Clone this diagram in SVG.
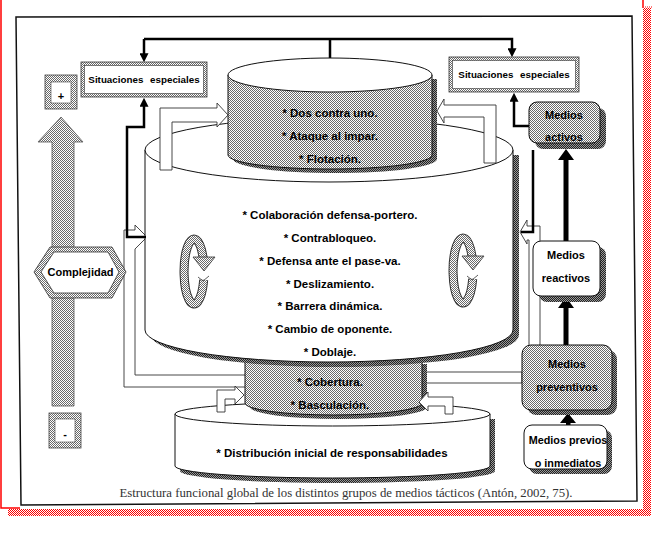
<svg xmlns="http://www.w3.org/2000/svg" width="653" height="534" viewBox="0 0 653 534">
<defs>
<pattern id="st" width="2" height="2" patternUnits="userSpaceOnUse"><rect width="2" height="2" fill="#fff"/><rect width="1" height="1" fill="#6a6a6a"/><rect x="1" y="1" width="1" height="1" fill="#6a6a6a"/></pattern>
<pattern id="dk" width="2" height="2" patternUnits="userSpaceOnUse"><rect width="2" height="2" fill="#222"/><rect width="1" height="1" fill="#999"/><rect x="1" y="1" width="1" height="1" fill="#999"/></pattern>
<pattern id="rd" width="2" height="2" patternUnits="userSpaceOnUse"><rect width="2" height="2" fill="#fff"/><rect width="1" height="1" fill="#f00"/><rect x="1" y="1" width="1" height="1" fill="#f00"/></pattern>
<marker id="ah" viewBox="0 0 10 10" refX="2" refY="5" markerWidth="9" markerHeight="9" markerUnits="userSpaceOnUse" orient="auto"><path d="M0,0 L10,5 L0,10 z" fill="#000"/></marker>
<g id="circ">
<path d="M203.1,257.8 A10,32.5 0 1 0 203.7,279.9" fill="none" stroke="#333" stroke-width="9"/>
<path d="M203.1,257.8 A10,32.5 0 1 0 203.7,279.9" fill="none" stroke="url(#st)" stroke-width="7"/>
<polygon points="193,257 215,257 204,271" fill="url(#st)" stroke="#333" stroke-width="0.8"/>
<path d="M198,277 L203,281 L209,276" fill="none" stroke="#333" stroke-width="0.8"/>
</g>
</defs>
<style>
.t{font-family:"Liberation Sans",Arial,sans-serif;font-weight:bold;fill:#000;text-anchor:middle}
.ln{fill:none;stroke:#000;stroke-width:2.5}
.out{stroke:#111;stroke-width:1}
.hol{fill:#fff;stroke:#333;stroke-width:0.9}
.red{fill:none;stroke:#f00;stroke-width:1.5}
</style>
<rect width="653" height="534" fill="#fff"/>

<!-- red page border -->
<g id="page-border">
<path class="red" d="M1,0 V508 H20"/>
<rect x="8" y="509" width="642" height="7" fill="url(#rd)"/>
<rect x="643" y="8" width="8" height="508" fill="url(#rd)"/>
<path d="M643,0 V8" class="red"/>
<path d="M645,7 H653" stroke="#f00" stroke-width="1" stroke-dasharray="1,1"/>
</g>

<!-- frame -->
<polygon id="frame" points="16,17 632,16 637,501 21,505" fill="none" stroke="#111" stroke-width="1.5"/>

<!-- connectors (behind) -->
<g id="connectors-back">
<path class="ln" d="M330,58 V39"/>
<path class="ln" d="M144,39 H512 V50" marker-end="url(#ah)"/>
<path class="ln" d="M144,39 V55" marker-end="url(#ah)"/>
<path class="hol" d="M245,387 H124 V230 H135 V225 L147,237 L135,249 V375 H245"/>
<rect class="hol" x="400" y="372" width="122" height="11"/>
<path class="hol" d="M540,345 V226 H527 V220 L520,232 L527,244 V240 H529 V345"/>
</g>

<!-- complejidad axis -->
<g id="complejidad-axis">
<polygon points="61,117 83,142 74,142 74,406 52,406 52,142 38,142" fill="url(#st)" stroke="#555" stroke-width="0.8"/>
</g>
<g id="plus">
<rect x="45" y="75" width="32" height="34" fill="url(#st)" stroke="#444" stroke-width="0.8"/>
<rect x="51" y="82" width="20" height="21" fill="#fff" stroke="#444" stroke-width="0.6"/>
<text class="t" x="61" y="100" font-size="11">+</text>
</g>
<g id="minus">
<rect x="49" y="413" width="32" height="35" fill="url(#st)" stroke="#444" stroke-width="0.8"/>
<rect x="55" y="419" width="20" height="23" fill="#fff" stroke="#444" stroke-width="0.6"/>
<text class="t" x="65" y="438" font-size="11">-</text>
</g>
<g id="complejidad">
<polygon points="34,272 50,247 112,247 126,272 112,298 50,298" fill="url(#st)" stroke="#333" stroke-width="0.8"/>
<polygon points="41,272 54,252 108,252 119,272 108,293 54,293" fill="#fff" stroke="#333" stroke-width="0.8"/>
<text class="t" x="80.5" y="276" font-size="11">Complejidad</text>
</g>

<!-- bottom cylinder -->
<g id="cyl-bottom">
<path transform="translate(5,5)" d="M175,414 V466 A157.5,12 0 0 0 490,466 V414 Z" fill="url(#dk)"/>
<path class="out" d="M175,414 V466 A157.5,12 0 0 0 490,466 V414 Z" fill="#fff"/>
<ellipse class="out" cx="332.5" cy="414" rx="157.5" ry="12" fill="#fff"/>
<text class="t" x="332" y="457" font-size="11.5">* Distribución inicial de responsabilidades</text>
</g>

<!-- middle cylinder -->
<g id="cyl-middle">
<path transform="translate(5,4)" d="M245,360 V403 A88.5,12 0 0 0 422,403 V360 Z" fill="url(#dk)"/>
<path class="out" d="M245,360 V403 A88.5,12 0 0 0 422,403 V360 Z" fill="url(#st)"/>
<text class="t" x="330" y="386" font-size="11.5">* Cobertura.</text>
<text class="t" x="330" y="409" font-size="11.5">* Basculación.</text>
</g>

<!-- lower hollow arrows -->
<g id="arrows-lower">
<polygon class="hol" points="217,412 217,390 235,390 235,386 244,395 235,404 235,399 225,399 225,412"/>
<polygon class="hol" points="453,414 453,397 428,397 428,392 419,402 428,411 428,406 445,406 445,414"/>
</g>

<!-- big cylinder -->
<g id="cyl-big">
<path transform="translate(6,5)" d="M145,150 V330 A184,32 0 0 0 513,330 V150 Z" fill="url(#dk)"/>
<path class="out" d="M145,150 V330 A184,32 0 0 0 513,330 V150 Z" fill="#fff"/>
<ellipse class="out" cx="329" cy="150" rx="184" ry="32" fill="#fff"/>
<text class="t" x="330" y="219" font-size="11.5">* Colaboración defensa-portero.</text>
<text class="t" x="330" y="242" font-size="11.5">* Contrabloqueo.</text>
<text class="t" x="330" y="265" font-size="11.5">* Defensa ante el pase-va.</text>
<text class="t" x="330" y="288" font-size="11.5">* Deslizamiento.</text>
<text class="t" x="330" y="310" font-size="11.5">* Barrera dinámica.</text>
<text class="t" x="330" y="333" font-size="11.5">* Cambio de oponente.</text>
<text class="t" x="330" y="356" font-size="11.5">* Doblaje.</text>
</g>

<!-- top cylinder -->
<g id="cyl-top">
<path transform="translate(5,4)" d="M228,75 V155 A102,14 0 0 0 432,155 V75 Z" fill="url(#dk)"/>
<path class="out" d="M228,75 V155 A102,14 0 0 0 432,155 V75 Z" fill="url(#st)"/>
<ellipse class="out" cx="330" cy="75" rx="102" ry="17" fill="#fff"/>
<text class="t" x="330" y="117" font-size="11.5">* Dos contra uno.</text>
<text class="t" x="330" y="140" font-size="11.5">* Ataque al impar.</text>
<text class="t" x="330" y="163" font-size="11.5">* Flotación.</text>
</g>

<!-- upper hollow arrows -->
<g id="arrows-upper">
<polygon class="hol" points="160,170 160,108 217,108 217,103 228,115 217,127 217,122 172,122 172,170"/>
<polygon class="hol" points="496,163 496,105 444,105 444,99 437,111 444,123 444,117 484,117 484,163"/>
</g>

<!-- rotation icons -->
<g id="rot-left"><use href="#circ"/></g>
<g id="rot-right"><use href="#circ" transform="translate(269,-1)"/></g>

<!-- black connectors (front) -->
<g id="connectors">
<path class="ln" d="M146,237 H127 V127 H144 V105" marker-end="url(#ah)"/>
<path class="ln" d="M529,126 H514 V100" marker-end="url(#ah)"/>
<path class="ln" d="M533,150 V232 H521"/>
<polygon points="563.5,241 563.5,160 558,160 566,149 574,160 568.5,160 568.5,241" fill="#000"/>
<polygon points="563.5,345 563.5,308 558,308 566,297 574,308 568.5,308 568.5,345" fill="#000"/>
<polygon points="566,425 566,423 560,423 568,413 576,423 570.5,423 570.5,425" fill="#000"/>
</g>

<!-- situaciones especiales -->
<g id="sit-left">
<rect x="81" y="62" width="126" height="35" fill="url(#st)" stroke="#333" stroke-width="0.8"/>
<rect x="84.5" y="65.5" width="119" height="28" fill="#fff" stroke="#333" stroke-width="0.6"/>
<text class="t" x="144" y="83" font-size="9.8" word-spacing="4">Situaciones especiales</text>
</g>
<g id="sit-right">
<rect x="449" y="57" width="130" height="35" fill="url(#st)" stroke="#333" stroke-width="0.8"/>
<rect x="452.5" y="60.5" width="123" height="28" fill="#fff" stroke="#333" stroke-width="0.6"/>
<text class="t" x="514" y="78" font-size="9.8" word-spacing="4">Situaciones especiales</text>
</g>

<!-- medios -->
<g id="medios-activos">
<rect x="535" y="108" width="71" height="41" rx="8" fill="url(#dk)"/>
<rect class="out" x="529" y="102" width="71" height="41" rx="8" fill="url(#st)"/>
<text class="t" x="564" y="119" font-size="11">Medios</text>
<text class="t" x="564" y="141" font-size="11">activos</text>
</g>
<g id="medios-reactivos">
<rect x="539" y="247" width="67" height="55" rx="8" fill="url(#dk)"/>
<rect class="out" x="533" y="241" width="67" height="55" rx="8" fill="#fff"/>
<text class="t" x="566" y="259" font-size="11">Medios</text>
<text class="t" x="566" y="282" font-size="11">reactivos</text>
</g>
<g id="medios-preventivos">
<rect x="527" y="350" width="90" height="65" rx="9" fill="url(#dk)"/>
<rect class="out" x="522" y="345" width="90" height="65" rx="9" fill="url(#st)"/>
<text class="t" x="567" y="368" font-size="11">Medios</text>
<text class="t" x="567" y="391" font-size="11">preventivos</text>
</g>
<g id="medios-previos">
<rect x="529" y="430" width="83" height="44" rx="8" fill="url(#dk)"/>
<rect class="out" x="524" y="425" width="83" height="44" rx="8" fill="#fff"/>
<text class="t" x="568" y="444" font-size="10.8">Medios previos</text>
<text class="t" x="568" y="467" font-size="10.8">o inmediatos</text>
</g>

<text id="caption" x="346" y="497" font-family="'Liberation Serif','Times New Roman',serif" font-size="12.8" fill="#333" text-anchor="middle">Estructura funcional global de los distintos grupos de medios tácticos (Antón, 2002, 75).</text>
</svg>
